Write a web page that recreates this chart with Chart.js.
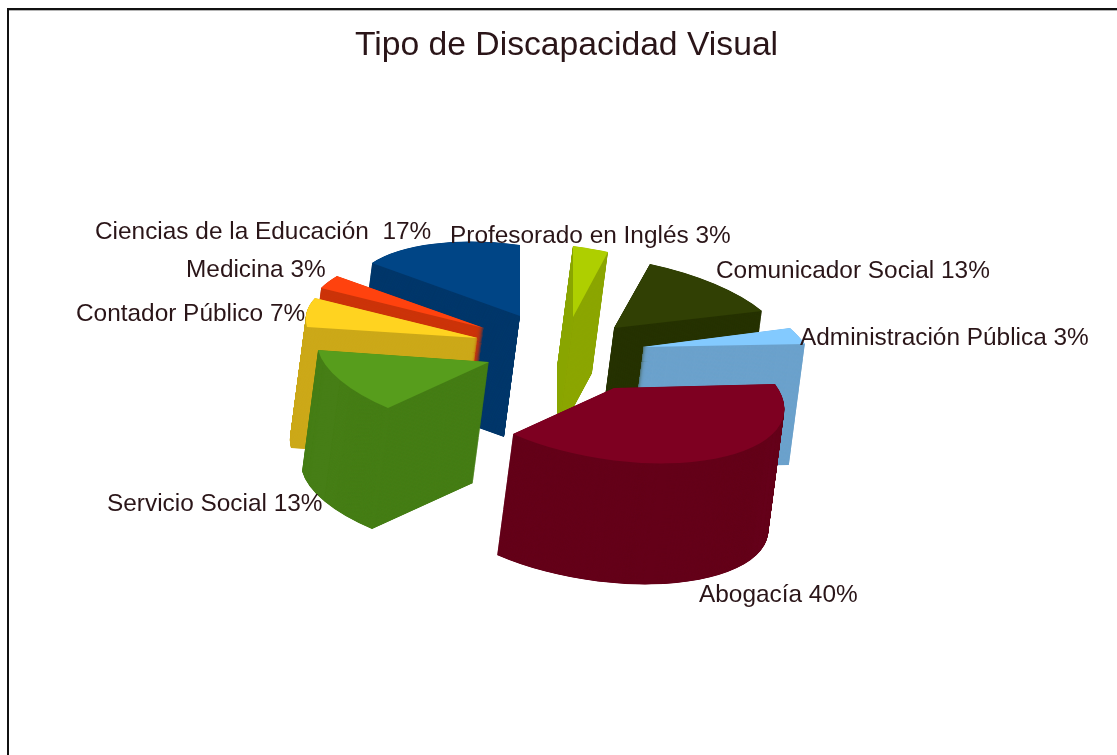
<!DOCTYPE html>
<html>
<head>
<meta charset="utf-8">
<style>html,body{margin:0;padding:0;background:#fff}canvas{display:block}</style>
<script src="https://cdn.jsdelivr.net/npm/chart.js@4"></script>
</head>
<body>
<canvas id="c" width="1117" height="755"></canvas>
<script>
// Data, clockwise from the top of the pie
const categories = ['Profesorado en Inglés','Comunicador Social','Administración Pública','Abogacía','Servicio Social','Contador Público','Medicina','Ciencias de la Educación '];
const percents = [3,13,3,40,13,7,3,17];

// Styling
const topColors  = ['#aecf00','#314004','#83caff','#7e0021','#579d1c','#ffd320','#ff420e','#004586'];
const wallColors = ['#8ca600','#273303','#6ca2cc','#65001a','#467e16','#cca91a','#cc350b','#00386b'];
const textColor = '#2a1518';

// Layout: the 3D pose of each exploded slice (pivot, rim at slice start, rim at slice end)
const posePivot    = [[573,317],[614,328],[642,347],[614,388],[489,362],[478,338],[484,328],[520,316]];
const poseRimStart = [[573,246],[650,264],[790,328],[775,384],[388,408],[307,327],[321,288],[372,263]];
const poseRimEnd   = [[608,252],[762,311],[805,344],[513,434],[318,350],[315,298],[337,276],[520,245]];
const extrude = [-16,121];
const extrudeSteps = 480;
const paintOrder = [7,6,5,4,0,1,2,3];
const labelPos = [[450,236],[716,271],[800,338],[699,595],[107,504],[76,314],[186,270],[95,232]];

const pie3d = {
  id:'pie3d',
  beforeDraw(chart){
    const g = chart.ctx;
    g.save();
    g.fillStyle='#fff'; g.fillRect(0,0,chart.width,chart.height);
    g.fillStyle='#b4b4b4';
    g.fillRect(9,10,chart.width-9,1);
    g.fillStyle='#111';
    g.fillRect(7,8,chart.width-7,2);
    g.fillRect(7,8,2,chart.height-8);
    g.restore();
  },
  beforeDatasetDraw(){ return false; },
  afterDatasetsDraw(chart){
    const g = chart.ctx, arcs = chart.getDatasetMeta(0).data;
    paintOrder.forEach(i=>{
      const el = arcs[i], R = el.outerRadius;
      const ax=R*Math.cos(el.startAngle), ay=R*Math.sin(el.startAngle);
      const bx=R*Math.cos(el.endAngle),   by=R*Math.sin(el.endAngle);
      const det = ax*by-bx*ay;
      const A=posePivot[i];
      const d1=[poseRimStart[i][0]-A[0],poseRimStart[i][1]-A[1]];
      const d2=[poseRimEnd[i][0]-A[0],poseRimEnd[i][1]-A[1]];
      const a=(d1[0]*by-d2[0]*ay)/det, c=(d2[0]*ax-d1[0]*bx)/det;
      const b=(d1[1]*by-d2[1]*ay)/det, d=(d2[1]*ax-d1[1]*bx)/det;
      const e=A[0]-a*el.x-c*el.y, f=A[1]-b*el.x-d*el.y;
      const base = el.options;
      const paint=(dx,dy,color)=>{
        g.save();
        g.translate(dx,dy);
        g.transform(a,b,c,d,e,f);
        el.options = Object.assign({},base,{backgroundColor:color,borderWidth:0});
        el.draw(g);
        el.options = base;
        g.restore();
      };
      for(let k=extrudeSteps;k>=1;k--) paint(extrude[0]*k/extrudeSteps,extrude[1]*k/extrudeSteps,wallColors[i]);
      paint(0,0,topColors[i]);
    });
    g.save();
    g.font='24.4px "Liberation Sans"';
    g.fillStyle=textColor;
    g.textAlign='left';
    g.textBaseline='middle';
    categories.forEach((n,i)=>g.fillText(n+' '+percents[i]+'%',labelPos[i][0],labelPos[i][1]));
    g.restore();
  }
};

new Chart(document.getElementById('c'),{
  type:'pie',
  data:{labels:categories,datasets:[{data:percents,backgroundColor:topColors,borderWidth:0}]},
  plugins:[pie3d],
  options:{
    responsive:false,
    animation:false,
    layout:{padding:{left:16,top:0}},
    plugins:{
      legend:{display:false},
      tooltip:{enabled:false},
      title:{display:true,text:'Tipo de Discapacidad Visual',color:textColor,
        font:{family:'"Liberation Sans"',size:33.7,weight:'normal'},padding:{top:25,bottom:10}}
    }
  }
});
</script>
</body>
</html>
